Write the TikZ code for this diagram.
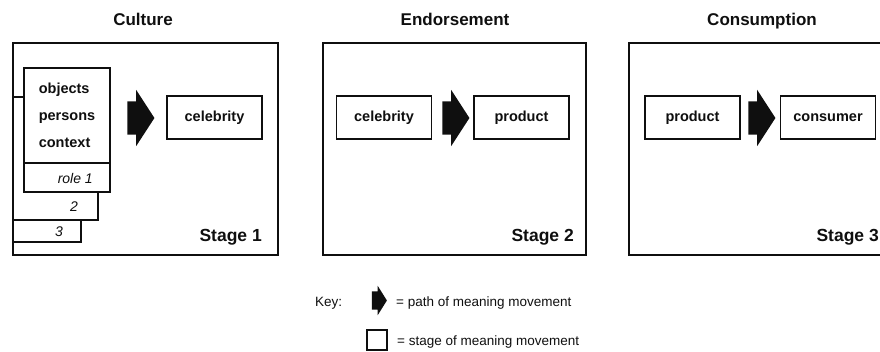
\documentclass[tikz,border=0pt]{standalone}
\usepackage{fontspec}
\setmainfont{Liberation Sans}
\usetikzlibrary{shapes.arrows,positioning}
\definecolor{inkBlack}{RGB}{15,15,15}

\begin{document}
\begin{tikzpicture}[x=1pt, y=-1pt]
    \tikzstyle{stagebox} = [rectangle, draw=inkBlack, line width=1.6pt, inner sep=0pt, outer sep=0pt]
    \tikzstyle{itembox} = [rectangle, draw=inkBlack, fill=white, line width=1.1pt, minimum width=95pt, minimum height=43pt, inner sep=0pt, font=\fontsize{14.5}{17}\selectfont\bfseries, text=inkBlack]
    \tikzstyle{cardbox} = [rectangle, draw=inkBlack, fill=white, line width=1.1pt, inner sep=0pt, outer sep=0pt]
    \tikzstyle{titletext} = [anchor=base, inner sep=0pt, font=\fontsize{17}{20}\selectfont\bfseries, text=inkBlack]
    \tikzstyle{stagetext} = [anchor=base east, inner sep=0pt, font=\fontsize{17.5}{20}\selectfont\bfseries, text=inkBlack]
    \tikzstyle{roletext} = [anchor=base east, inner sep=0pt, font=\fontsize{14}{17}\selectfont\itshape, text=inkBlack]
    \tikzstyle{movearrow} = [single arrow, fill=inkBlack, draw=none, inner xsep=0pt, inner ysep=16.5pt, minimum height=27pt, single arrow head extend=11.5pt, single arrow tip angle=114]
    \tikzstyle{keytext} = [anchor=base west, inner sep=0pt, font=\fontsize{13.5}{16}\selectfont, text=inkBlack]

    \clip (0,0) rectangle (880,352);

    % headings
    \node[titletext] (tculture) at (143,26) {Culture};
    \node[titletext] (tendorse) at (455,26) {Endorsement};
    \node[titletext] (tconsume) at (762,26) {Consumption};

    % stage frames
    \node[stagebox, minimum width=265pt, minimum height=212pt] (stage1) at (145.5,149) {};
    \node[stagebox, minimum width=263pt, minimum height=212pt] (stage2) at (454.5,149) {};
    \node[stagebox, minimum width=266pt, minimum height=212pt] (stage3) at (762,149) {};

    % stage 1: stacked role cards
    \node[cardbox, anchor=south east, minimum width=68pt, minimum height=122pt] (card3) at (81,242) {};
    \node[cardbox, anchor=south east, minimum width=85pt, minimum height=123pt] (card2) at (98,220) {};
    \node[cardbox, minimum width=86pt, minimum height=95pt, align=left,
          font=\fontsize{14.5}{27}\selectfont\bfseries, text=inkBlack] (objs) at (67,115.5) {objects\\persons\\context};
    \node[cardbox, below=0pt of objs, minimum width=86pt, minimum height=29pt] (role1) {};
    \node[roletext] (lrole1) at (93,184) {role 1};
    \node[roletext] (lrole2) at (78,212) {2};
    \node[roletext] (lrole3) at (63,237) {3};

    \node[itembox] (cel1) at (214.5,117.5) {celebrity};
    \node[movearrow] (mv1) at (135.5,118) {};

    % stage 2
    \node[itembox] (cel2) at (384,117.5) {celebrity};
    \node[itembox] (prod2) at (521.5,117.5) {product};
    \node[movearrow] (mv2) at (450.5,118) {};

    % stage 3
    \node[itembox] (prod3) at (692.5,117.5) {product};
    \node[itembox] (cons3) at (828,117.5) {consumer};
    \node[movearrow] (mv3) at (756.5,118) {};

    \node[stagetext] (s1) at (262,242) {Stage 1};
    \node[stagetext] (s2) at (574,242) {Stage 2};
    \node[stagetext] (s3) at (879,242) {Stage 3};

    % key
    \node[keytext] (keylbl) at (315,306) {Key:};
    \node[single arrow, fill=inkBlack, inner xsep=0pt, inner ysep=9pt, minimum height=15pt,
          single arrow head extend=5.5pt, single arrow tip angle=116] (keyarrow) at (376.5,300.5) {};
    \node[keytext] (keypath) at (396,306) {= path of meaning movement};
    \node[cardbox, minimum width=20pt, minimum height=20pt] (keybox) at (377,340) {};
    \node[keytext] (keystage) at (397,345) {= stage of meaning movement};
\end{tikzpicture}
\end{document}
